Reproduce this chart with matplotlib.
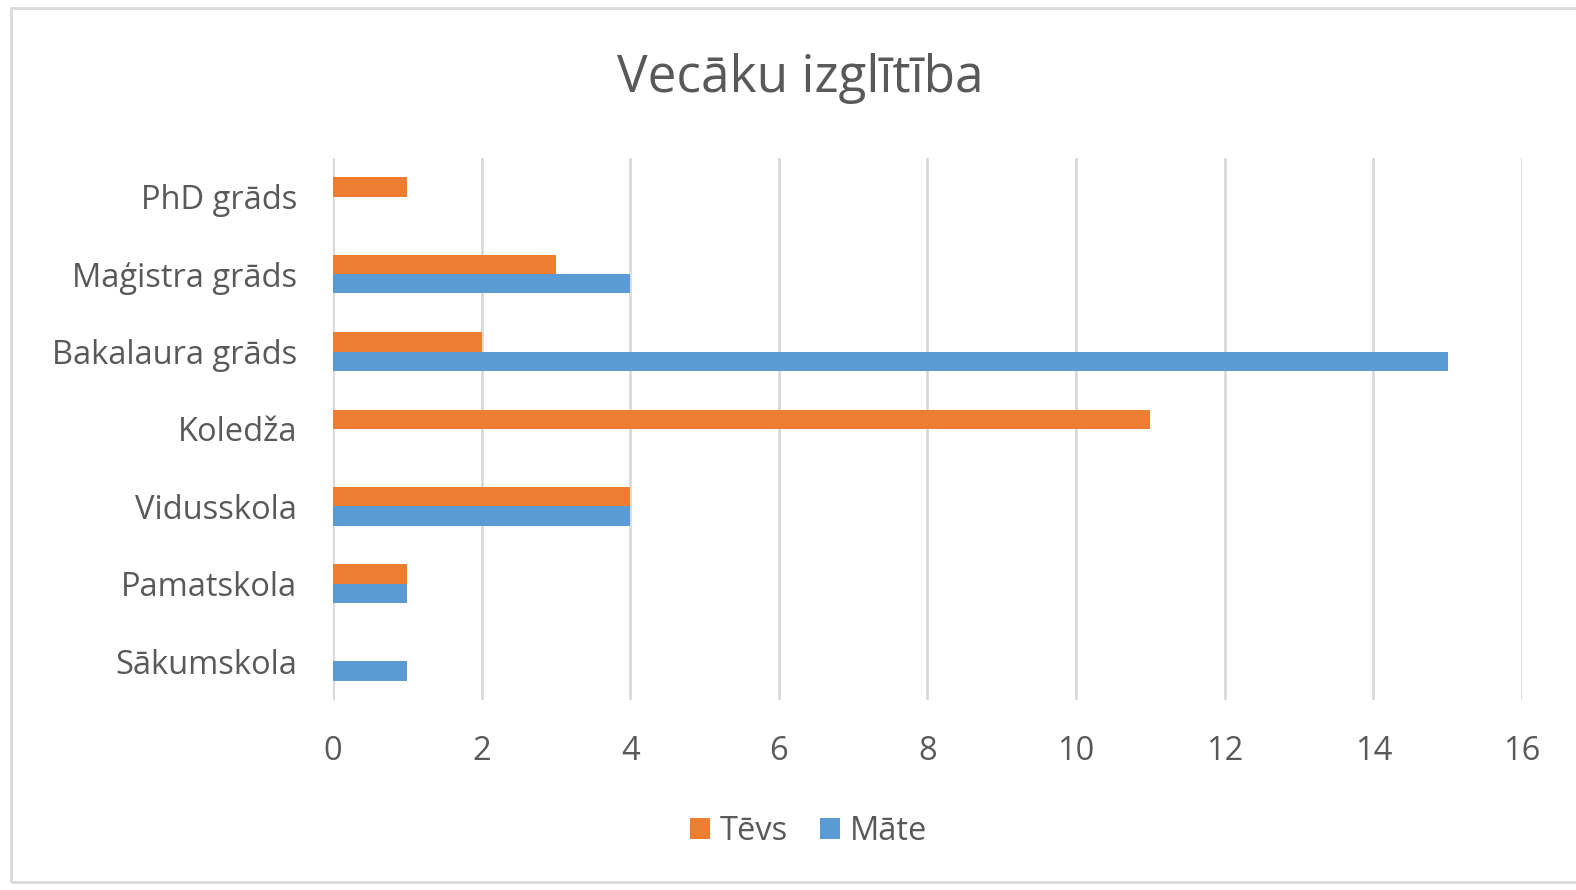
import matplotlib.pyplot as plt
from matplotlib.patches import Rectangle
import numpy as np

plt.rcParams['font.family'] = ['Open Sans', 'DejaVu Sans']

categories = ['Sākumskola', 'Pamatskola', 'Vidusskola', 'Koledža',
              'Bakalaura grāds', 'Maģistra grāds', 'PhD grāds']
tevs = [0, 1, 4, 11, 2, 3, 1]
mate = [1, 1, 4, 0, 15, 4, 0]
x_ticks = [0, 2, 4, 6, 8, 10, 12, 14, 16]

orange = '#ED7D31'
blue = '#5B9BD5'
txt = '#595959'

fig = plt.figure(figsize=(15.76, 8.90), dpi=100)
ax = fig.add_axes([0.2113, 0.2135, 0.7544, 0.609])

y = np.arange(len(categories))
h = 0.25
ax.barh(y + h / 2, tevs, height=h, color=orange, label='Tēvs', zorder=3)
ax.barh(y - h / 2, mate, height=h, color=blue, label='Māte', zorder=3)

ax.set_xlim(0, 16)
ax.set_ylim(-0.5, len(categories) - 0.5)
ax.set_xticks(x_ticks)
ax.set_yticks(y)
ax.set_yticklabels(categories)
ax.xaxis.grid(True, color='#D9D9D9', linewidth=2)
ax.set_axisbelow(True)
for s in ax.spines.values():
    s.set_visible(False)
ax.axvline(0, color='#D9D9D9', linewidth=2, zorder=1)
ax.tick_params(axis='both', length=0, labelsize=23.5, labelcolor=txt)
ax.tick_params(axis='x', pad=25)
ax.tick_params(axis='y', pad=26)

fig.text(0.508, 0.912, 'Vecāku izglītība', ha='center', va='center',
         fontsize=37, color=txt)

leg = fig.legend(*ax.get_legend_handles_labels(), loc='center',
                 bbox_to_anchor=(0.513, 0.066), ncol=2,
                 frameon=False, fontsize=23.5, labelcolor=txt,
                 handlelength=0.6, handleheight=0.6, handletextpad=0.3,
                 columnspacing=1.0)

fig.patches.append(Rectangle((0.007, 0.009), 1.1, 0.982, transform=fig.transFigure,
                             fill=False, edgecolor='#D9D9D9', linewidth=2))

fig.savefig('out.png', dpi=100)
